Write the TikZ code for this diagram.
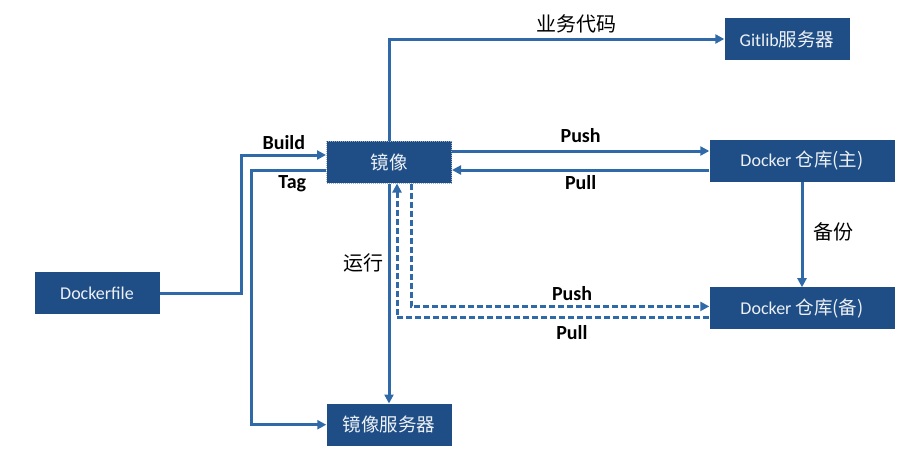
\documentclass[tikz,border=0pt]{standalone}
\usepackage{fontspec}
\setmainfont{Carlito}
\newfontfamily\cjk{Noto Sans CJK SC}
\usetikzlibrary{arrows.meta,positioning}
\definecolor{boxblue}{RGB}{31,78,135}
\definecolor{lineblue}{RGB}{47,105,168}
\tikzset{
  box/.style={fill=boxblue,text=white!92!boxblue,minimum width=125pt,minimum height=42pt,
    inner sep=0pt,font=\fontsize{18}{21}\selectfont},
  wide/.style={box,minimum width=185pt},
  link/.style={draw=lineblue,line width=3pt,-{Triangle[length=9pt,width=9pt]}},
  dlink/.style={link,dash pattern=on 6pt off 3pt},
  lbl/.style={font=\fontsize{20}{23}\selectfont\bfseries,inner sep=4pt},
  zlbl/.style={font=\fontsize{20}{23}\selectfont\cjk,inner sep=4pt},
}
\newcommand{\zh}[1]{{\cjk\fontsize{18.5}{21}\selectfont #1}}

\begin{document}
\begin{tikzpicture}[x=1pt,y=-1pt]
      \useasboundingbox (0,0) rectangle (918,459);

      \node[box,draw=white!55!boxblue,densely dotted,line width=1pt] (img) at (389,162) {\zh{镜像}};
      \node[box] (df) at (97,293) {Dockerfile};
      \node[box] (git) at (787,39) {Gitlib\zh{服务器}};
      \node[wide] (main) at (802,161) {Docker \zh{仓库(主)}};
      \node[wide] (bak) [below=105pt of main] {Docker \zh{仓库(备)}};
      \node[box] (srv) [below=220pt of img] {\zh{镜像服务器}};

      % build and tag
      \draw[link] (df.east) -- ++(82,0) |- node[lbl,above,pos=0.75] {Build} ([yshift=7pt]img.west);
      \draw[link] ([yshift=-8pt]img.west) -- node[lbl,below,pos=0.45] {Tag} ++(-75,0) |- (srv.west);

      \draw[link] (img.north) |- node[zlbl,above,pos=0.78] {业务代码} (git.west);

      % main registry
      \draw[link] ([yshift=11pt]img.east) -- node[lbl,above=3pt] {Push} ([yshift=11pt]img.east -| main.west);
      \draw[link] ([yshift=-9pt]main.west) -- node[lbl,below] {Pull} ([yshift=-9pt]main.west -| img.east);
      \draw[link] (main.south) -- node[zlbl,right=6pt,pos=0.47] {备份} (bak.north);

      \draw[link] (img.south) -- node[zlbl,left,pos=0.36] {运行} (img.south |- srv.north);

      % backup registry
      \draw[dlink] ([xshift=22pt]img.south) |- node[lbl,above,pos=0.77] {Push} ([yshift=2pt]bak.west);
      \draw[dlink] ([yshift=-9pt]bak.west) -| node[lbl,below=3pt,pos=0.22] {Pull} ([xshift=8pt]img.south);
\end{tikzpicture}
\end{document}
